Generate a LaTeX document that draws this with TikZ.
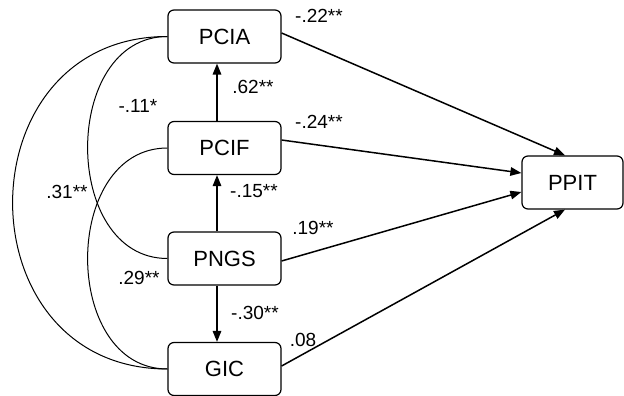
\documentclass[tikz,border=0pt]{standalone}
\usepackage{fontspec}
\setmainfont{Liberation Sans}
\usetikzlibrary{arrows.meta}
\begin{document}
\begin{tikzpicture}[x=1pt,y=-1pt,
  var/.style={draw,line width=1.2pt,rounded corners=6pt,minimum width=113pt,minimum height=53pt,inner sep=0pt,font=\fontsize{22}{24}\selectfont},
  path/.style={line width=1.5pt,-{Triangle[length=11pt,width=8.5pt]}},
  cov/.style={line width=1pt},
  lab/.style={font=\fontsize{19}{21}\selectfont,inner sep=0pt}]
\useasboundingbox (0,0) rectangle (624,396);
\node[var] (pcia) at (224.5,36.5) {PCIA};
\node[var] (pcif) at (224.5,148) {PCIF};
\node[var] (pngs) at (224.5,258.5) {PNGS};
\node[var] (gic) at (224.5,369) {GIC};
\node[var,minimum width=101pt] (ppit) at (572.5,182.5) {PPIT};
% vertical paths
\draw[path] ([xshift=-7.5pt]pcif.north) -- ([xshift=-7.5pt]pcia.south);
\draw[path] ([xshift=-7.5pt]pngs.north) -- ([xshift=-7.5pt]pcif.south);
\draw[path] ([xshift=-7.5pt]pngs.south) -- ([xshift=-7.5pt]gic.north);
% paths to PPIT
\draw[path] ([yshift=3.5pt]pcia.east) -- ([xshift=-7.5pt]ppit.north);
\draw[path] ([yshift=8pt]pcif.east) -- ([yshift=9.5pt]ppit.west);
\draw[path] ([yshift=-2.5pt]pngs.east) -- ([yshift=-9.5pt]ppit.west);
\draw[path] ([yshift=3pt]gic.east) -- ([xshift=-7.5pt]ppit.south);
% covariances
\draw[cov] (pcia.west) .. controls (-39,36.5) and (-39,369) .. (gic.west);
\draw[cov] (pcia.west) .. controls (61,36.5) and (61,258.5) .. (pngs.west);
\draw[cov] (pcif.west) .. controls (61,148) and (61,369) .. (gic.west);
% labels
\node[lab] (l1) at (319,16) {-.22**};
\node[lab] (l2) at (319,122) {-.24**};
\node[lab] (l3) at (313,228) {.19**};
\node[lab] (l4) at (303,340) {.08};
\node[lab] (l5) at (253,87) {.62**};
\node[lab] (l6) at (254,191) {-.15**};
\node[lab] (l7) at (255,313) {-.30**};
\node[lab] (l8) at (138,106) {-.11*};
\node[lab] (l9) at (67,192) {.31**};
\node[lab] (l10) at (139,278) {.29**};
\end{tikzpicture}
\end{document}
